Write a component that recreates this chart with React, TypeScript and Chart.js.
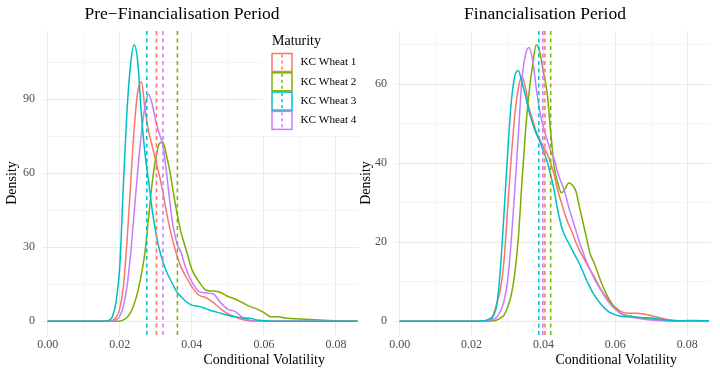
import React, { useEffect, useRef } from "react";
import { Chart, registerables } from "chart.js";
Chart.register(...registerables);

const FONT = "'Liberation Serif', 'Times New Roman', serif";

const SERIES_NAMES = ["KC Wheat 1", "KC Wheat 2", "KC Wheat 3", "KC Wheat 4"];
const SERIES_COLORS = ["#F8766D", "#7CAE00", "#00BFC4", "#C77CFF"];
// drawing order: higher drawn first (teal on top)
const SERIES_ORDER = [4, 3, 1, 2];

// Pre-Financialisation period densities
const PRE_X = [0, 0.016, 0.017, 0.018, 0.019, 0.020, 0.021, 0.022, 0.023, 0.024, 0.025, 0.026, 0.027, 0.028, 0.029, 0.030, 0.031, 0.032, 0.033, 0.034, 0.035, 0.036, 0.037, 0.038, 0.039, 0.040, 0.042, 0.044, 0.046, 0.048, 0.050, 0.052, 0.054, 0.056, 0.058, 0.060, 0.062, 0.064, 0.066, 0.070, 0.074, 0.078, 0.082, 0.086];
const PRE_W1 = [0, 0, 0, 0.3, 1.5, 5, 14, 32, 55, 78, 93, 97, 86, 77, 71, 65, 59, 52, 44, 37, 31, 26, 22, 19, 16.5, 14, 10.5, 9.5, 7.5, 5, 3, 1.8, 0.7, 0.2, 0, 0, 0, 0, 0, 0, 0, 0, 0, 0];
const PRE_W2 = [0, 0, 0, 0, 0, 0, 0.5, 1.5, 3.5, 7, 12, 19, 28, 42, 56, 66, 72, 72.5, 67, 60, 51, 43, 36, 31, 26, 21, 16, 12.5, 12.2, 11.6, 10, 9, 7.5, 6, 5, 3.5, 1.8, 1.8, 1.3, 0.9, 0.6, 0.3, 0.1, 0];
const PRE_W3 = [0, 0, 0.3, 2, 8, 22, 55, 85, 104, 112, 105, 84, 68, 57, 45, 36, 29, 24, 20, 17, 14, 11.5, 10, 8.5, 7.3, 6.5, 6, 5, 4, 3.2, 2.4, 1.8, 1.3, 1.2, 0.5, 0.2, 0, 0, 0, 0, 0, 0, 0, 0];
const PRE_W4 = [0, 0, 0, 0, 0.5, 2, 6, 14, 27, 44, 61, 76, 87, 92, 88, 81, 76, 71, 60, 47, 37, 31, 28, 23, 19, 16, 12, 11.5, 11, 7.5, 4.8, 4, 1.6, 0.4, 0, 0, 0, 0, 0, 0, 0, 0, 0, 0];
const PRE_MEANS = [0.0302, 0.036, 0.0275, 0.032];

// Financialisation period densities
const FIN_X = [0, 0.022, 0.023, 0.024, 0.025, 0.026, 0.027, 0.028, 0.029, 0.030, 0.031, 0.032, 0.033, 0.034, 0.035, 0.036, 0.037, 0.038, 0.039, 0.040, 0.041, 0.042, 0.043, 0.044, 0.045, 0.046, 0.047, 0.048, 0.049, 0.050, 0.051, 0.052, 0.053, 0.054, 0.056, 0.058, 0.060, 0.062, 0.064, 0.066, 0.068, 0.070, 0.074, 0.078, 0.082, 0.086];
const FIN_W1 = [0, 0, 0, 0.2, 0.6, 1.5, 4.5, 8, 15, 28, 41, 52, 59, 62, 59, 54, 51, 48, 46, 44, 42.5, 40, 37, 33, 30, 27, 24.5, 22.5, 20, 18, 16.3, 14.6, 13, 11.5, 8, 5.5, 3.5, 2.3, 2, 2, 1.8, 1.4, 0.5, 0.1, 0.1, 0];
const FIN_W2 = [0, 0, 0, 0, 0, 0.1, 0.3, 0.8, 1.5, 3.5, 6.5, 12, 21, 35, 48, 58, 65, 70, 68, 63, 58, 48, 39, 35, 32.5, 33.5, 35, 34.5, 33, 29, 25, 21, 17, 15, 10, 6, 3.2, 1.8, 1.3, 1, 0.7, 0.5, 0.2, 0, 0, 0];
const FIN_W3 = [0, 0, 0.1, 0.2, 0.5, 1.2, 4, 13, 27, 42, 55, 62, 63.5, 60.5, 57, 53, 50, 47.5, 45.5, 43, 40.5, 37, 33, 28, 24, 21.5, 19.8, 18, 16.3, 14.6, 12.5, 10.3, 8.5, 6.8, 4.3, 2.5, 1.6, 1.2, 1.1, 1, 0.9, 0.8, 0.3, 0.1, 0.2, 0.1];
const FIN_W4 = [0, 0, 0, 0, 0.2, 0.5, 1, 2.5, 5, 10, 20, 33, 47, 61, 67.5, 69.3, 66, 59, 53, 49, 46, 43, 41, 37.5, 35, 32.5, 29, 26, 23, 20, 17.5, 15, 13, 11, 7.8, 5, 3, 1.7, 1.1, 0.8, 0.5, 0.3, 0.1, 0, 0, 0];
const FIN_MEANS = [0.0404, 0.042, 0.0387, 0.0398];

const X_TICKS = [0, 0.01, 0.02, 0.03, 0.04, 0.05, 0.06, 0.07, 0.08];
const X_MAJOR = [0, 0.02, 0.04, 0.06, 0.08];
const PRE_Y_TICKS = [0, 15, 30, 45, 60, 75, 90, 105];
const PRE_Y_MAJOR = [0, 30, 60, 90];
const FIN_Y_TICKS = [0, 10, 20, 30, 40, 50, 60, 70];
const FIN_Y_MAJOR = [0, 20, 40, 60];

const isIn = (v: number, arr: number[]) => arr.some((m) => Math.abs(m - v) < 1e-9);

type PanelCfg = {
  title: string;
  titleX: number;
  yTitleX: number;
  xs: number[];
  series: number[][];
  means: number[];
  xMin: number;
  xMax: number;
  yMin: number;
  yMax: number;
  yTicks: number[];
  yMajor: number[];
  yAxisWidth: number;
  padRight: number;
  legend: boolean;
};

const PANELS: PanelCfg[] = [
  {
    title: "Pre\u2212Financialisation Period",
    titleX: 182,
    yTitleX: 12.5,
    xs: PRE_X,
    series: [PRE_W1, PRE_W2, PRE_W3, PRE_W4],
    means: PRE_MEANS,
    xMin: -0.0013,
    xMax: 0.0864,
    yMin: -5.6,
    yMax: 117.6,
    yTicks: PRE_Y_TICKS,
    yMajor: PRE_Y_MAJOR,
    yAxisWidth: 43,
    padRight: 1,
    legend: true,
  },
  {
    title: "Financialisation Period",
    titleX: 190,
    yTitleX: 11,
    xs: FIN_X,
    series: [FIN_W1, FIN_W2, FIN_W3, FIN_W4],
    means: FIN_MEANS,
    xMin: -0.0013,
    xMax: 0.0866,
    yMin: -3.5,
    yMax: 73.5,
    yTicks: FIN_Y_TICKS,
    yMajor: FIN_Y_MAJOR,
    yAxisWidth: 40,
    padRight: 9,
    legend: false,
  },
];

function makePlugin(cfg: PanelCfg) {
  return {
    id: "annot",
    afterDraw(chart: any) {
      const ctx = chart.ctx as CanvasRenderingContext2D;
      const a = chart.chartArea;
      ctx.save();
      ctx.fillStyle = "#000";
      ctx.textAlign = "center";
      ctx.textBaseline = "alphabetic";
      ctx.font = `17.5px ${FONT}`;
      ctx.fillText(cfg.title, cfg.titleX, 19);
      ctx.font = `14px ${FONT}`;
      ctx.fillText("Conditional Volatility", a.left + 0.7 * (a.right - a.left), 364);
      ctx.translate(cfg.yTitleX, (a.top + a.bottom) / 2);
      ctx.rotate(-Math.PI / 2);
      ctx.textBaseline = "middle";
      ctx.fillText("Density", 0, 0);
      ctx.restore();

      if (cfg.legend) {
        ctx.save();
        ctx.fillStyle = "#fff";
        ctx.fillRect(263, 30, 97, 106);
        ctx.fillStyle = "#000";
        ctx.font = `14px ${FONT}`;
        ctx.textAlign = "left";
        ctx.textBaseline = "alphabetic";
        ctx.fillText("Maturity", 272, 44.5);
        ctx.font = `11.2px ${FONT}`;
        ctx.textBaseline = "middle";
        SERIES_NAMES.forEach((name, i) => {
          const top = 53.5 + i * 19.3;
          const h = 18;
          ctx.strokeStyle = SERIES_COLORS[i];
          ctx.lineWidth = 1.5;
          ctx.setLineDash([]);
          ctx.strokeRect(272, top, 20, h);
          ctx.setLineDash([3, 3]);
          ctx.beginPath();
          ctx.moveTo(282, top + 1);
          ctx.lineTo(282, top + h - 1);
          ctx.stroke();
          ctx.setLineDash([]);
          ctx.fillStyle = "#000";
          ctx.fillText(name, 300.5, top + h / 2);
        });
        ctx.restore();
      }
    },
  };
}

function Panel({ cfg, width }: { cfg: PanelCfg; width: number }) {
  const ref = useRef<HTMLCanvasElement>(null);
  useEffect(() => {
    if (!ref.current) return;
    const densitySets = cfg.series.map((ys, i) => ({
      label: SERIES_NAMES[i],
      data: cfg.xs.map((x, j) => ({ x, y: ys[j] })),
      borderColor: SERIES_COLORS[i],
      borderWidth: 1.5,
      pointRadius: 0,
      fill: false,
      cubicInterpolationMode: "monotone" as const,
      order: SERIES_ORDER[i] + 1,
    }));
    const meanSets = cfg.means.map((m, i) => ({
      label: SERIES_NAMES[i] + " mean",
      data: [
        { x: m, y: cfg.yMin },
        { x: m, y: cfg.yMax },
      ],
      borderColor: SERIES_COLORS[i],
      borderWidth: 1.5,
      borderDash: [4, 3.5],
      pointRadius: 0,
      fill: false,
      order: 0,
    }));
    const gridColor = (major: number[]) => (c: any) =>
      c.tick && isIn(c.tick.value, major) ? "#EAEAEA" : "#F4F4F4";
    const chart = new Chart(ref.current, {
      type: "line",
      data: { datasets: [...densitySets, ...meanSets] as any },
      options: {
        responsive: false,
        animation: false,
        devicePixelRatio: 1,
        layout: { padding: { left: 0, right: cfg.padRight, top: 31, bottom: 0 } },
        plugins: { legend: { display: false }, tooltip: { enabled: false } },
        scales: {
          x: {
            type: "linear",
            min: cfg.xMin,
            max: cfg.xMax,
            afterFit: (s: any) => {
              s.height = 46;
            },
            afterBuildTicks: (s: any) => {
              s.ticks = X_TICKS.map((v) => ({ value: v }));
            },
            ticks: {
              autoSkip: false,
              maxRotation: 0,
              padding: 3,
              color: "#4D4D4D",
              font: { size: 12, family: FONT },
              callback: (v: any) => (isIn(Number(v), X_MAJOR) ? Number(v).toFixed(2) : ""),
            },
            grid: { drawTicks: false, color: gridColor(X_MAJOR), lineWidth: 1 },
            border: { display: false },
          },
          y: {
            type: "linear",
            min: cfg.yMin,
            max: cfg.yMax,
            afterFit: (s: any) => {
              s.width = cfg.yAxisWidth;
            },
            afterBuildTicks: (s: any) => {
              s.ticks = cfg.yTicks.map((v) => ({ value: v }));
            },
            ticks: {
              autoSkip: false,
              padding: 8,
              color: "#4D4D4D",
              font: { size: 12, family: FONT },
              callback: (v: any) => (isIn(Number(v), cfg.yMajor) ? String(v) : ""),
            },
            grid: { drawTicks: false, color: gridColor(cfg.yMajor), lineWidth: 1 },
            border: { display: false },
          },
        },
      },
      plugins: [makePlugin(cfg)],
    });
    return () => chart.destroy();
  }, [cfg]);
  return <canvas ref={ref} width={width} height={381} style={{ width, height: 381, display: "block" }} />;
}

export default function App() {
  return (
    <div style={{ position: "absolute", left: 0, top: 0, width: 720, height: 381, background: "#fff", overflow: "hidden" }}>
      <div style={{ position: "absolute", left: 0, top: 0 }}>
        <Panel cfg={PANELS[0]} width={360} />
      </div>
      <div style={{ position: "absolute", left: 355, top: 0 }}>
        <Panel cfg={PANELS[1]} width={365} />
      </div>
    </div>
  );
}
